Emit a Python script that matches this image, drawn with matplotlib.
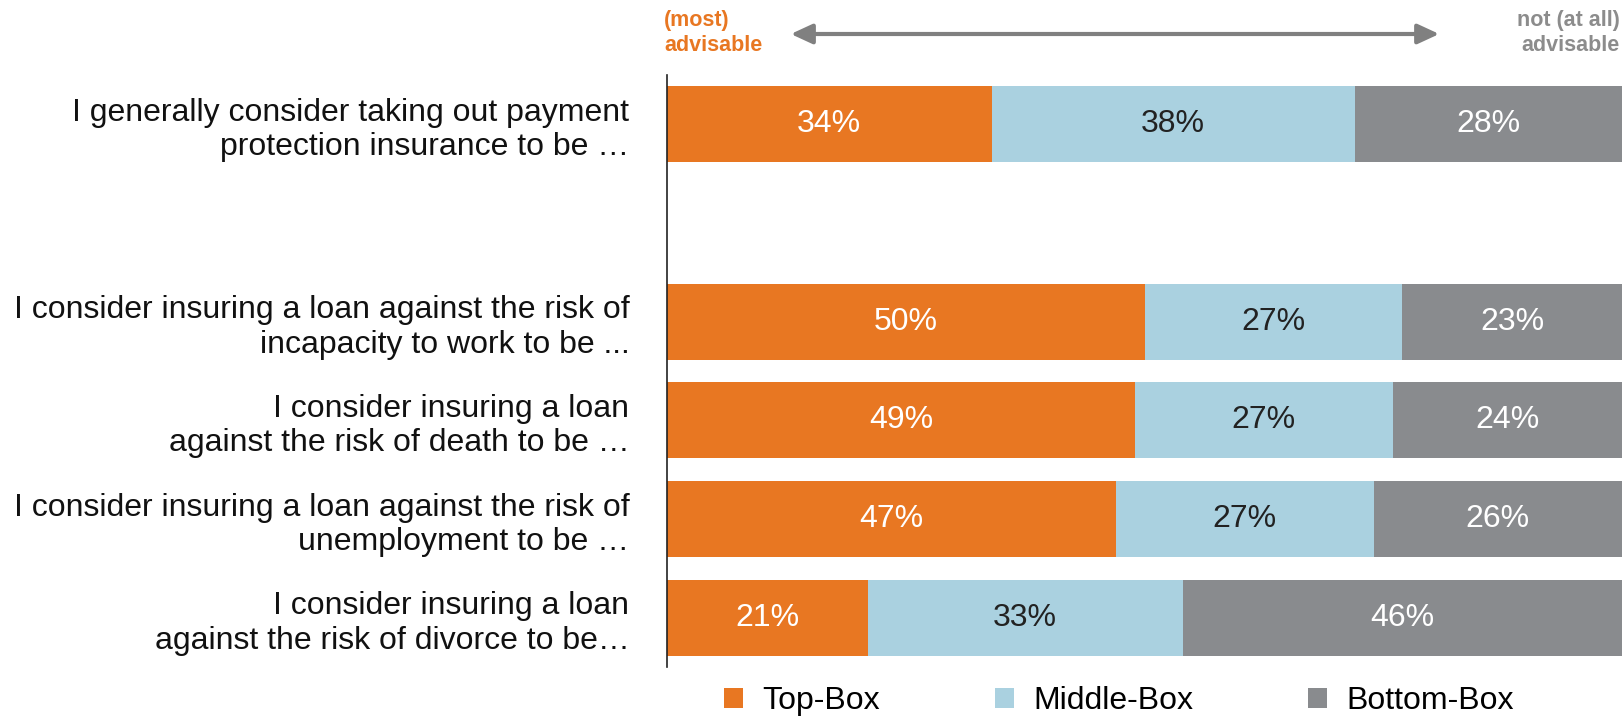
import matplotlib
matplotlib.use("Agg")
import matplotlib.pyplot as plt

plt.rcParams['font.family'] = ['Liberation Sans', 'DejaVu Sans']

questions = [
    "I generally consider taking out payment\nprotection insurance to be …",
    "I consider insuring a loan against the risk of\nincapacity to work to be ...",
    "I consider insuring a loan\nagainst the risk of death to be …",
    "I consider insuring a loan against the risk of\nunemployment to be …",
    "I consider insuring a loan\nagainst the risk of divorce to be…",
]
positions = [0, 2, 3, 4, 5]

top_box = [34, 50, 49, 47, 21]
middle_box = [38, 27, 27, 27, 33]
bottom_box = [28, 23, 24, 26, 46]

series = ["Top-Box", "Middle-Box", "Bottom-Box"]
colors = ["#E87722", "#AAD1E0", "#898B8E"]
text_colors = ["white", "#222222", "white"]

fig = plt.figure(figsize=(16.24, 7.18), dpi=100)
ax = fig.add_axes([0.4107, 0.0710, 0.5881, 0.8245])

left = [0] * len(positions)
for name, vals, col, tcol in zip(series, [top_box, middle_box, bottom_box], colors, text_colors):
    bars = ax.barh(positions, vals, left=left, height=0.77, color=col, label=name)
    for rect, v in zip(bars, vals):
        ax.text(rect.get_x() + rect.get_width() / 2, rect.get_y() + rect.get_height() / 2,
                f"{v}%", ha="center", va="center", color=tcol, fontsize=23)
    left = [a + b for a, b in zip(left, vals)]

ax.set_xlim(0, 100)
ax.set_ylim(5.5, -0.5)
ax.set_yticks(positions)
ax.set_yticklabels(questions, fontsize=23, color="#111111")
ax.tick_params(axis="y", length=0, pad=27)
ax.set_xticks([])
for s in ["top", "right", "bottom"]:
    ax.spines[s].set_visible(False)
ax.spines["left"].set_color("#222222")
ax.spines["left"].set_linewidth(1.2)

# scale header above the bars
fig.text(664 / 1624, 1 - 33 / 718, "(most)\nadvisable", ha="left", va="center",
         fontsize=15.5, fontweight="bold", color="#E87722", linespacing=1.2)
fig.text(1620 / 1624, 1 - 33 / 718, "not (at all)\nadvisable", ha="right", va="center",
         fontsize=15.5, fontweight="bold", color="#8C8C8C", linespacing=1.2)
fig.add_artist(matplotlib.patches.FancyArrowPatch(
    (788 / 1624, 1 - 34 / 718), (1442 / 1624, 1 - 34 / 718), transform=fig.transFigure,
    arrowstyle="<|-|>,head_length=13,head_width=6", color="#808080", lw=3,
    mutation_scale=1))

fig.legend(loc="center", bbox_to_anchor=(1119 / 1624, 1 - 701 / 718), ncol=3,
           frameon=False, fontsize=23, handlelength=0.6, handleheight=0.6,
           handletextpad=0.6, columnspacing=3.6)

fig.savefig("out.png", dpi=100)
